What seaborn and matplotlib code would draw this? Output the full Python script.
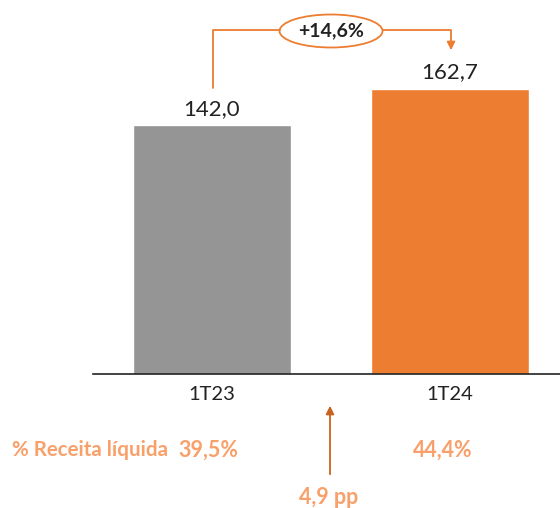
import matplotlib
matplotlib.use("Agg")
import matplotlib.pyplot as plt
import seaborn as sns
import pandas as pd
from matplotlib.patches import Ellipse

categories = ["1T23", "1T24"]
values = [142.0, 162.7]
value_labels = ["142,0", "162,7"]
margin_labels = ["39,5%", "44,4%"]
growth_label = "+14,6%"
pp_label = "4,9 pp"
margin_title = "% Receita líquida"

sns.set_theme(style="white")
plt.rcParams['font.family'] = ['Lato', 'DejaVu Sans']

bar_colors = ["#959595", "#ED7D31"]
light_orange = "#F9A06A"

fig = plt.figure(figsize=(5.6, 5.08), dpi=100)
ax = fig.add_axes([93/560, 1 - 374/508, 1 - 93/560, 374/508])

df = pd.DataFrame({"cat": categories, "val": values})
sns.barplot(data=df, x="cat", y="val", hue="cat", palette=bar_colors,
            width=0.664, ax=ax, legend=False, saturation=1)

ax.set_xlim(-0.5, 1.462)
ax.set_ylim(0, 213.2)
for s in ["top", "right", "left"]:
    ax.spines[s].set_visible(False)
ax.spines["bottom"].set_color("#222222")
ax.spines["bottom"].set_linewidth(1.2)
ax.set_yticks([])
ax.set_xlabel("")
ax.set_ylabel("")
ax.tick_params(axis="x", length=0, pad=9, labelsize=14.5, labelcolor="#222222")

for i, (v, lab) in enumerate(zip(values, value_labels)):
    ax.text(i, v + 3.5, lab, ha="center", va="bottom", fontsize=16, color="#222222")

# growth bracket
def fy(py):
    return (374 - py) / 374 * 213.2
def fx(px):
    return (px - 212) / 238

lc = "#ED7D31"
ax.plot([fx(213), fx(213), fx(280)], [fy(88), fy(30), fy(30)], color=lc, lw=1.3, clip_on=False)
ax.plot([fx(383), fx(451), fx(451)], [fy(30), fy(30), fy(44)], color=lc, lw=1.3, clip_on=False)
ax.annotate("", xy=(fx(451), fy(53)), xytext=(fx(451), fy(42)),
            arrowprops=dict(arrowstyle="-|>", color=lc, lw=1.3, mutation_scale=12), annotation_clip=False)
ell = Ellipse((fx(331), fy(31)), width=103/238, height=33/374*213.2,
              facecolor="white", edgecolor=lc, lw=1.3, clip_on=False)
ax.add_patch(ell)
ax.text(fx(331), fy(31), growth_label, ha="center", va="center", fontsize=14,
        fontweight="bold", color="#222222")

# bottom texts
fig.text(12/560, 1 - 450/508, margin_title, ha="left", va="center", fontsize=14.8,
         fontweight="bold", color=light_orange)
fig.text(208/560, 1 - 450/508, margin_labels[0], ha="center", va="center", fontsize=15.5,
         fontweight="bold", color=light_orange)
fig.text(443/560, 1 - 450/508, margin_labels[1], ha="center", va="center", fontsize=15.5,
         fontweight="bold", color=light_orange)
fig.text(329/560, 1 - 497/508, pp_label, ha="center", va="center", fontsize=15.5,
         fontweight="bold", color=light_orange)
ax.annotate("", xy=(330/560, 1 - 403/508), xytext=(330/560, 1 - 477/508),
            xycoords="figure fraction", textcoords="figure fraction",
            arrowprops=dict(arrowstyle="-|>", color="#C8621F", lw=1.3, mutation_scale=12))

fig.savefig("out.png", dpi=100)
